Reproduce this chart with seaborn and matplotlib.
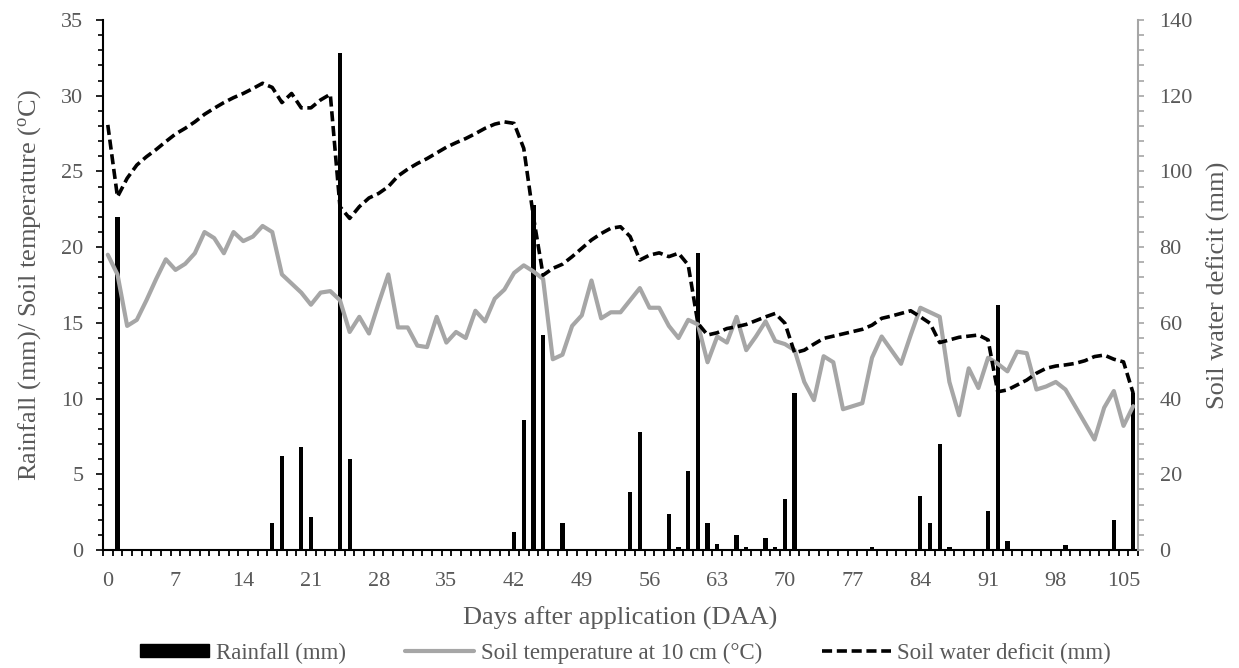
import numpy as np
import pandas as pd
import matplotlib
matplotlib.use("Agg")
import matplotlib.pyplot as plt
from matplotlib.patches import Patch
from matplotlib.lines import Line2D
from matplotlib.ticker import MultipleLocator, FixedLocator
import seaborn as sns

# ---------------- data ----------------
days = list(range(0, 107))

rain_days = [1, 17, 18, 20, 21, 24, 25, 42, 43, 44, 45, 47, 54, 55, 58, 59, 60, 61,
             62, 63, 65, 66, 68, 69, 70, 71, 79, 84, 85, 86, 87, 91, 92, 93, 99, 104, 106]
rain_mm = [22.0, 1.8, 6.2, 6.8, 2.2, 32.8, 6.0, 1.2, 8.6, 22.8, 14.2, 1.8, 3.8, 7.8, 2.4, 0.2, 5.2, 19.6,
           1.8, 0.4, 1.0, 0.2, 0.8, 0.2, 3.4, 10.4, 0.2, 3.6, 1.8, 7.0, 0.2, 2.6, 16.2, 0.6, 0.3, 2.0, 10.4]

soil_temp = [19.5, 18.2, 14.8, 15.2, 16.5, 17.9, 19.2, 18.5, 18.9, 19.6,
             21.0, 20.6, 19.6, 21.0, 20.4, 20.7, 21.4, 21.0, 18.2, 17.6,
             17.0, 16.2, 17.0, 17.1, 16.5, 14.4, 15.4, 14.3, 16.3, 18.2,
             14.7, 14.7, 13.5, 13.4, 15.4, 13.7, 14.4, 14.0, 15.8, 15.1,
             16.6, 17.2, 18.3, 18.8, 18.4, 17.9, 12.6, 12.9, 14.8, 15.5,
             17.8, 15.3, 15.7, 15.7, 16.5, 17.3, 16.0, 16.0, 14.8, 14.0,
             15.2, 14.9, 12.4, 14.1, 13.7, 15.4, 13.2, 14.1, 15.1, 13.8,
             13.6, 13.2, 11.1, 9.9, 12.8, 12.4, 9.3, 9.5, 9.7, 12.7,
             14.1, 13.2, 12.3, 14.2, 16.0, 15.7, 15.4, 11.1, 8.9, 12.0,
             10.7, 12.7, 12.3, 11.8, 13.1, 13.0, 10.6, 10.8, 11.1, 10.6,
             9.5, 8.4, 7.3, 9.4, 10.5, 8.2, 9.5]

water_deficit = [112.3, 93.3, 98.2, 101.7, 103.9, 105.8, 107.9, 109.9, 111.4, 113.1,
                 115.1, 116.7, 118.2, 119.5, 120.6, 121.9, 123.3, 122.2, 118.2, 120.6,
                 116.8, 116.8, 118.9, 120.4, 90.7, 87.6, 90.7, 93.0, 94.2, 96.0,
                 98.8, 100.6, 102.1, 103.4, 104.9, 106.4, 107.6, 108.7, 110.0, 111.4,
                 112.5, 113.1, 112.7, 106.1, 88.0, 72.6, 74.4, 75.5, 77.5, 79.7,
                 81.9, 83.6, 85.0, 85.4, 82.8, 76.6, 77.9, 78.5, 77.5, 78.4,
                 75.3, 59.9, 56.8, 57.4, 58.5, 59.0, 59.6, 60.6, 61.6, 62.5,
                 59.9, 52.1, 52.8, 54.4, 55.9, 56.5, 57.1, 57.7, 58.3, 59.4,
                 61.2, 61.8, 62.5, 63.2, 61.6, 59.9, 54.8, 55.5, 56.2, 56.5,
                 56.8, 55.5, 41.8, 42.3, 43.6, 44.9, 46.7, 48.0, 48.6, 48.9,
                 49.3, 50.0, 51.1, 51.5, 50.4, 49.7, 41.4]

x_tick_labels = [str(d) for d in range(0, 106, 7)]

labels = ["Rainfall (mm)", "Soil temperature at 10 cm (\u00b0C)", "Soil water deficit (mm)"]

# ---------------- style ----------------
sns.set_theme(style="ticks")
plt.rcParams["font.family"] = ["Liberation Serif", "DejaVu Serif"]
plt.rcParams["mathtext.fontset"] = "custom"
plt.rcParams["mathtext.rm"] = "Liberation Serif"
plt.rcParams["mathtext.it"] = "Liberation Serif:italic"

TXT = "#595959"
GRAY = "#A6A6A6"

fig, ax = plt.subplots(figsize=(12.39, 6.68), dpi=100)
fig.subplots_adjust(left=0.0831, right=0.9185, top=0.970, bottom=0.1766)

rain_df = pd.DataFrame({"day": rain_days, "rain": rain_mm})
sns.barplot(data=rain_df, x="day", y="rain", native_scale=True, width=0.44,
            color="black", saturation=1, linewidth=0, ax=ax)

temp_df = pd.DataFrame({"day": days, "temp": soil_temp})
sns.lineplot(data=temp_df, x="day", y="temp", color=GRAY, linewidth=3.0, ax=ax)

ax2 = ax.twinx()
def_df = pd.DataFrame({"day": days, "def": water_deficit})
sns.lineplot(data=def_df, x="day", y="def", color="black", linewidth=2.6, ax=ax2)
ax2.lines[0].set_linestyle((0, (2.8, 1.3)))

# ---------------- axes ----------------
ax.set_xlim(-0.5, 106.5)
ax.set_ylim(0, 35)
ax2.set_ylim(0, 140)

ax.xaxis.set_major_locator(FixedLocator(list(range(0, 106, 7))))
ax.set_xticklabels(x_tick_labels)
ax.xaxis.set_minor_locator(FixedLocator(list(np.arange(-0.5, 107, 1.0))))
ax.tick_params(axis="x", which="major", length=0, pad=16, labelsize=16, labelcolor=TXT)
ax.tick_params(axis="x", which="minor", length=4.5, width=1.3, color="black", direction="out")

ax.yaxis.set_major_locator(MultipleLocator(5))
ax.yaxis.set_minor_locator(MultipleLocator(1))
ax.tick_params(axis="y", which="major", length=5, width=1.2, color="black", pad=9,
               labelsize=16, labelcolor=TXT, left=True)
ax.tick_params(axis="y", which="minor", length=3.5, width=1.2, color="black", left=True)

ax2.yaxis.set_major_locator(MultipleLocator(20))
ax2.yaxis.set_minor_locator(MultipleLocator(4))
ax2.tick_params(axis="y", which="major", length=4.5, width=1.2, color=GRAY, pad=11,
                labelsize=16, labelcolor=TXT, right=True)
ax2.tick_params(axis="y", which="minor", length=4, width=1.2, color=GRAY, right=True)

for s in ["top", "right"]:
    ax.spines[s].set_visible(False)
for s in ["top", "left", "bottom"]:
    ax2.spines[s].set_visible(False)
ax.spines["left"].set_color("black")
ax.spines["left"].set_linewidth(1.5)
ax.spines["bottom"].set_color("black")
ax.spines["bottom"].set_linewidth(1.5)
ax2.spines["right"].set_color(GRAY)
ax2.spines["right"].set_linewidth(1.5)

ax.set_xlabel("Days after application (DAA)", fontsize=19, color=TXT, labelpad=11)
ax.set_ylabel(r"Rainfall (mm)/ Soil temperature ($^{\rm o}$C)", fontsize=19, color=TXT, labelpad=13)
ax2.set_ylabel("Soil water deficit (mm)", fontsize=19, color=TXT, labelpad=10)

handles = [Patch(facecolor="black", edgecolor="black"),
           Line2D([0], [0], color=GRAY, linewidth=3.0),
           Line2D([0], [0], color="black", linewidth=2.6, linestyle=(0, (2.8, 1.3)))]
leg = fig.legend(handles, labels, loc="center", bbox_to_anchor=(0.505, 1 - 653 / 668),
                 ncol=3, frameon=False, fontsize=16.5, handlelength=3.0, handleheight=0.5,
                 columnspacing=2.6, handletextpad=0.3)
for t in leg.get_texts():
    t.set_color(TXT)

fig.savefig("out.png", dpi=100)
